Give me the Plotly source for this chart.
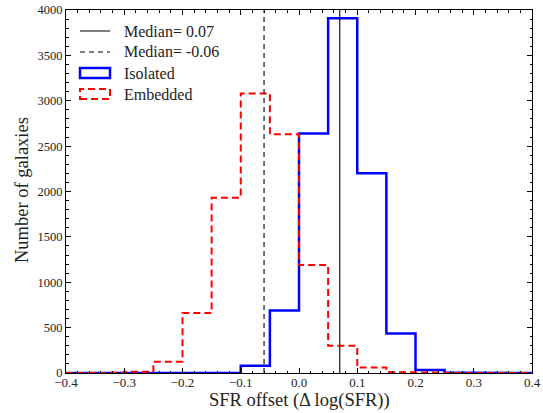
import numpy as np
import plotly.graph_objects as go

bin_edges = np.round(np.arange(-0.4, 0.4001, 0.05), 3)
isolated_counts = [0, 0, 0, 0, 1, 3, 80, 690, 2640, 3910, 2200, 435, 32, 5, 1, 0]
embedded_counts = [1, 2, 15, 125, 660, 1930, 3080, 2630, 1190, 300, 60, 10, 3, 1, 0, 0]
median_isolated = 0.07
median_embedded = -0.06
legend_labels = [f"Median= {median_isolated:.2f}", f"Median= {median_embedded:.2f}", "Isolated", "Embedded"]
x_title = "SFR offset (Δ log(SFR))"
y_title = "Number of galaxies"

def step_outline(edges, counts):
    xs, ys = [edges[0]], [0]
    for i, c in enumerate(counts):
        xs += [edges[i], edges[i + 1]]
        ys += [c, c]
    xs.append(edges[-1]); ys.append(0)
    return xs, ys

FONT = "Liberation Serif"
TXT = "#222"
W, H = 543, 413
L, R, T, B = 66, 11, 10, 40
PW, PH = W - L - R, H - T - B

def px(xp):
    return (xp - L) / PW

def py(yp):
    return (H - B - yp) / PH

fig = go.Figure()

xi, yi = step_outline(bin_edges, isolated_counts)
fig.add_trace(go.Scatter(x=xi, y=yi, mode="lines",
                         line=dict(color="blue", width=2.5),
                         name=legend_labels[2], showlegend=False))
xe, ye = step_outline(bin_edges, embedded_counts)
fig.add_trace(go.Scatter(x=xe, y=ye, mode="lines",
                         line=dict(color="red", width=2, dash="7px,4px"),
                         name=legend_labels[3], showlegend=False))
fig.add_trace(go.Scatter(x=[median_isolated] * 2, y=[0, 4000], mode="lines",
                         line=dict(color="black", width=1.1),
                         name=legend_labels[0], showlegend=False))
fig.add_trace(go.Scatter(x=[median_embedded] * 2, y=[0, 4000], mode="lines",
                         line=dict(color="black", width=1.1, dash="5px,4px"),
                         name=legend_labels[1], showlegend=False))

# manual legend (matplotlib-style patches)
rows = [31, 52, 73, 94]
x0, x1 = px(80), px(110)
fig.add_shape(type="line", xref="paper", yref="paper", x0=x0, x1=x1, y0=py(rows[0]), y1=py(rows[0]),
              line=dict(color="black", width=1))
fig.add_shape(type="line", xref="paper", yref="paper", x0=x0, x1=x1, y0=py(rows[1]), y1=py(rows[1]),
              line=dict(color="black", width=1, dash="5px,4px"))
fig.add_shape(type="rect", xref="paper", yref="paper", x0=x0, x1=x1, y0=py(rows[2] + 5), y1=py(rows[2] - 5),
              line=dict(color="blue", width=2.5))
fig.add_shape(type="rect", xref="paper", yref="paper", x0=x0, x1=x1, y0=py(rows[3] + 5), y1=py(rows[3] - 5),
              line=dict(color="red", width=2, dash="7px,4px"))
for lab, r in zip(legend_labels, rows):
    fig.add_annotation(xref="paper", yref="paper", x=px(122), y=py(r), text=lab, showarrow=False,
                       xanchor="left", yanchor="middle", font=dict(family=FONT, size=16, color=TXT))

# axis titles
fig.add_annotation(xref="paper", yref="paper", x=0.5, y=py(401), text=x_title, showarrow=False,
                   xanchor="center", yanchor="middle", font=dict(family=FONT, size=18.5, color=TXT))
fig.add_annotation(xref="paper", yref="paper", x=px(22), y=py(190), text=y_title, showarrow=False,
                   textangle=-90, xanchor="center", yanchor="middle", font=dict(family=FONT, size=18.5, color=TXT))

axis_common = dict(showline=True, linecolor="black", linewidth=1, mirror="allticks",
                   ticks="inside", ticklen=5, tickcolor="black", showgrid=False, automargin=False,
                   zeroline=False)

fig.update_xaxes(range=[-0.4, 0.4], dtick=0.1, tickformat=".1f", ticklabelstandoff=-3,
                 tickfont=dict(family=FONT, size=13, color=TXT),
                 minor=dict(ticks="inside", ticklen=2.5, dtick=0.02, tickcolor="black"),
                 **axis_common)
fig.update_yaxes(range=[0, 4000], dtick=500, tickfont=dict(family=FONT, size=12.5, color=TXT),
                 minor=dict(ticks="inside", ticklen=2.5, dtick=100, tickcolor="black"),
                 **axis_common)

fig.update_layout(width=W, height=H, margin=dict(l=L, r=R, t=T, b=B),
                  plot_bgcolor="white", paper_bgcolor="white", showlegend=False)

fig.write_html("out.html")
